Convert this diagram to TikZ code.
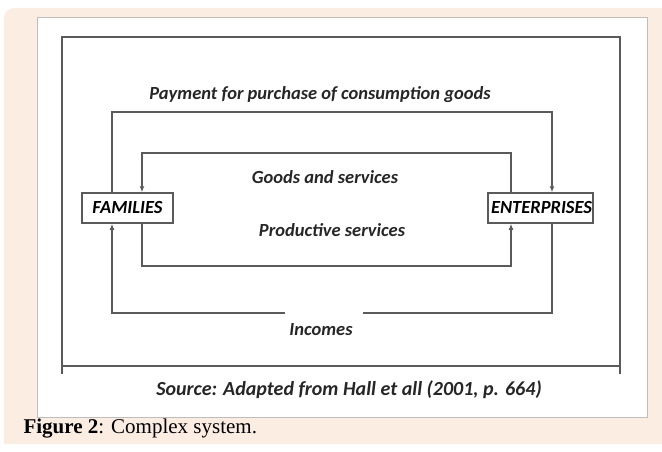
\documentclass[tikz,border=0pt]{standalone}
\usepackage{fontspec}
\setmainfont{Liberation Serif}
\newfontfamily\labelfont{Carlito}
\usetikzlibrary{arrows.meta}

\definecolor{peach}{HTML}{FCEDE3}
\definecolor{panelgray}{HTML}{BDBDBD}
\definecolor{linegray}{HTML}{5A5A5A}

\tikzset{
  flow/.style={color=linegray, line width=1.5pt},
  arrowflow/.style={flow, -{Latex[length=6pt,width=5pt]}},
  agent/.style={draw=linegray, line width=1.5pt, fill=white, inner sep=3pt,
    minimum height=30pt, font=\labelfont\bfseries\itshape\fontsize{18.5}{20}\selectfont},
  flowlabel/.style={font=\labelfont\bfseries\itshape\fontsize{18.5}{20}\selectfont, text=black!85},
}

\begin{document}
\begin{tikzpicture}[%
      x=1pt, y=-1pt,
      ]
      \useasboundingbox (0,0) rectangle (662,452);
      % background and panel
      \fill [color=peach, rounded corners=10pt] (4,8) rectangle (700,444);
      \fill [color=peach] (4,300) rectangle (662,444);
      \filldraw [fill=white, draw=panelgray, line width=0.8pt] (37,17) rectangle (647,417);

      % outer frame
      \draw [flow] (62,374) -- (62,37) -- (620,37) -- (620,374);
      \draw [flow] (62,366) -- (620,366);

      % economic agents
      \node [agent] (fam) at (127.5,208) {\makebox[85pt][c]{FAMILIES}};
      \node [agent] (ent) at (540.5,208) {\makebox[99pt][l]{ENTERPRISES}};

      % loop corners
      \coordinate (payL) at (112,112);
      \coordinate (payR) at (552,112);
      \coordinate (goodsR) at (511,153);
      \coordinate (goodsL) at (142,153);
      \coordinate (prodL) at (142,266);
      \coordinate (prodR) at (511,266);
      \coordinate (incR) at (552,313);
      \coordinate (gapR) at (363,313);
      \coordinate (gapL) at (285,313);
      \coordinate (incL) at (112,313);

      % flows
      \draw [arrowflow] (fam.north -| payL) -- (payL) -- (payR) -- (ent.north -| payR);
      \draw [arrowflow] (ent.north -| goodsR) -- (goodsR) -- (goodsL) -- (fam.north -| goodsL);
      \draw [arrowflow] (fam.south -| prodL) -- (prodL) -- (prodR) -- (ent.south -| prodR);
      \draw [flow] (ent.south -| incR) -- (incR) -- (gapR);
      \draw [arrowflow] (gapL) -- (incL) -- (fam.south -| incL);

      % labels
      \node [flowlabel] (pay) at (320,95) {Payment for purchase of consumption goods};
      \node [flowlabel] (goods) at (325,177) {Goods and services};
      \node [flowlabel] (prod) at (332,230) {Productive services};
      \node [flowlabel] (inc) at (321,330) {Incomes};
      \node [flowlabel, font=\labelfont\bfseries\itshape\fontsize{20}{22}\selectfont] (src) at (349,390) {Source: Adapted from Hall et all (2001, p. 664)};

      \node [anchor=base west, font=\fontsize{21}{24}\selectfont] (cap) at (20,433)
        {\textbf{Figure 2}: Complex system.};
      \end{tikzpicture}
\end{document}
